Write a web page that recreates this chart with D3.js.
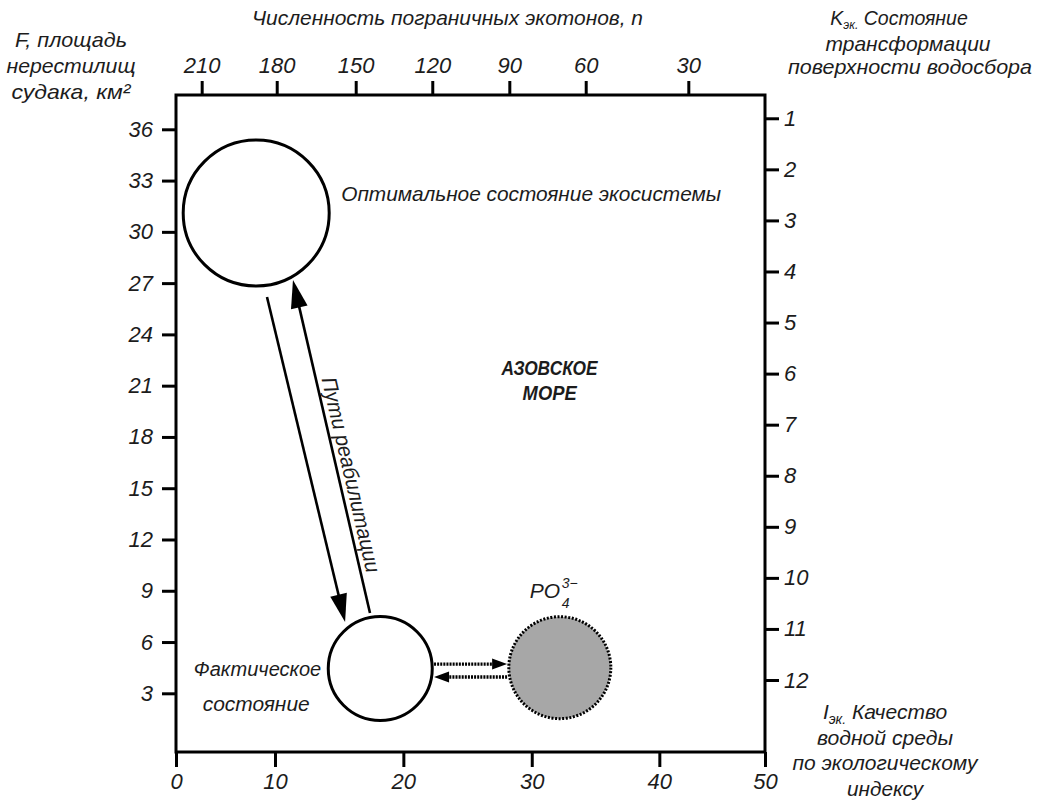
<!DOCTYPE html>
<html><head><meta charset="utf-8">
<script src="https://cdn.jsdelivr.net/npm/d3@7"></script>
<style>
body{margin:0;background:#fff}
text{font-family:"Liberation Sans",Arial,sans-serif;font-style:italic;fill:#1c1c1c}
</style>
</head><body>
<svg id="chart" width="1041" height="803"></svg>
<script>
// ---------------- data ----------------
const bottomTicks = [0, 10, 20, 30, 40, 50];            // I_эк, water quality index
const topTicks    = [210, 180, 150, 120, 90, 60, 30];   // n, number of border ecotones
const leftTicks   = [3, 6, 9, 12, 15, 18, 21, 24, 27, 30, 33, 36]; // F, km²
const rightTicks  = [1, 2, 3, 4, 5, 6, 7, 8, 9, 10, 11, 12];      // K_эк
const stateNames  = ["optimal", "fact", "po4"];
const stateI      = [8.1, 18.2, 32.2];
const stateF      = [31.1, 4.45, 4.5];
// rehabilitation paths (down: optimal -> fact, up: fact -> optimal)
const rehabFromI  = [9.19, 17.40];
const rehabFromF  = [26.19, 7.70];
const rehabToI    = [15.46, 11.40];
const rehabToF    = [7.17, 27.18];
// exchange with the phosphate pool
const exchFromI   = [22.39, 28.08];
const exchFromF   = [4.71, 3.95];
const exchToI     = [28.08, 22.39];
const exchToF     = [4.71, 3.95];

// ---------------- layout ----------------
const L = 176, R = 765, T = 95, B = 752, W = R - L;
const svg = d3.select("#chart");

const x  = d3.scaleLinear().domain(bottomTicks)
  .range([0, 0.1681, 0.386, 0.604, 0.8206, 1].map(f => L + f * W));
const xn = d3.scaleLinear().domain(topTicks)
  .range([0.0436, 0.171, 0.3051, 0.4351, 0.5659, 0.6956, 0.8698].map(f => L + f * W));
const y  = d3.scaleLinear().domain([-0.434, 38.007]).range([B, T]);
const yk = d3.scaleLinear().domain([0.544, 13.41]).range([T, B]);

const radius = {optimal: 73, fact: 52, po4: 51};

function styleAxis(g) {
  g.select(".domain").remove();
  g.selectAll(".tick line").attr("stroke", "#000").attr("stroke-width", 3);
  g.selectAll(".tick text").attr("font-size", 22).attr("fill", "#1c1c1c")
    .attr("font-family", "Liberation Sans, Arial, sans-serif").attr("font-style", "italic");
}

svg.append("g").attr("transform", `translate(0,${B})`)
  .call(d3.axisBottom(x).tickValues(bottomTicks).tickSize(15).tickPadding(6).tickFormat(d3.format("d")))
  .call(styleAxis);
svg.append("g").attr("transform", `translate(0,${T})`)
  .call(d3.axisTop(xn).tickValues(topTicks).tickSize(14).tickPadding(8).tickFormat(d3.format("d")))
  .call(styleAxis);
svg.append("g").attr("transform", `translate(${L},0)`)
  .call(d3.axisLeft(y).tickValues(leftTicks).tickSize(14).tickPadding(9).tickFormat(d3.format("d")))
  .call(styleAxis);
svg.append("g").attr("transform", `translate(${R},0)`)
  .call(d3.axisRight(yk).tickValues(rightTicks).tickSize(14).tickPadding(5).tickFormat(d3.format("d")))
  .call(styleAxis);

// frame
svg.append("rect").attr("x", L).attr("y", T).attr("width", W).attr("height", B - T)
  .attr("fill", "none").attr("stroke", "#000").attr("stroke-width", 3);

// ---------------- circles ----------------
const states = stateNames.map((n, i) => ({name: n, I: stateI[i], F: stateF[i]}));
svg.append("g").selectAll("circle").data(states).join("circle")
  .attr("cx", d => x(d.I)).attr("cy", d => y(d.F)).attr("r", d => radius[d.name])
  .attr("fill", d => d.name === "po4" ? "#a7a7a7" : "#fff")
  .attr("stroke", "#000")
  .attr("stroke-width", 3)
  .attr("stroke-dasharray", d => d.name === "po4" ? "2,1.6" : null);

// ---------------- arrows ----------------
function arrow(g, x1, y1, x2, y2, headLen, headW, sw, dash) {
  const a = Math.atan2(y2 - y1, x2 - x1);
  const c = Math.cos(a), s = Math.sin(a);
  const bx = x2 - headLen * c, by = y2 - headLen * s;
  g.append("line").attr("x1", x1).attr("y1", y1)
    .attr("x2", bx + 2 * c).attr("y2", by + 2 * s)
    .attr("stroke", "#000").attr("stroke-width", sw)
    .attr("stroke-dasharray", dash || null);
  g.append("path")
    .attr("d", `M${x2},${y2}L${bx + headW * s},${by - headW * c}L${bx - headW * s},${by + headW * c}Z`)
    .attr("fill", "#000");
}
const ga = svg.append("g");
rehabFromI.forEach((_, i) =>
  arrow(ga, x(rehabFromI[i]), y(rehabFromF[i]), x(rehabToI[i]), y(rehabToF[i]), 28, 8.5, 2.6));
exchFromI.forEach((_, i) =>
  arrow(ga, x(exchFromI[i]), y(exchFromF[i]), x(exchToI[i]), y(exchToF[i]), 15, 5.5, 3.4, "2,1.1"));

// ---------------- text ----------------
function label(txt, px, py, opts = {}) {
  const t = svg.append("text").attr("x", px).attr("y", py)
    .attr("font-size", opts.size || 21)
    .attr("text-anchor", opts.anchor || "start")
    .text(txt);
  if (opts.len) t.attr("textLength", opts.len).attr("lengthAdjust", "spacingAndGlyphs");
  if (opts.bold) t.attr("font-weight", "bold");
  return t;
}

// top title
label("Численность пограничных экотонов, n", 252, 25, {len: 391});
// left title
label("F, площадь", 71, 47, {anchor: "middle", len: 112});
label("нерестилищ", 71, 73, {anchor: "middle", len: 129});
label("судака, км²", 71, 99, {anchor: "middle", len: 119});
// right top title
const k1 = svg.append("g").attr("transform", "translate(899,25) scale(0.93,1)")
  .append("text").attr("x", 0).attr("y", 0).attr("font-size", 21).attr("text-anchor", "middle");
k1.append("tspan").text("K");
k1.append("tspan").attr("font-size", 13).attr("dy", 4).text("эк.");
k1.append("tspan").attr("dy", -4).text(" Состояние");
label("трансформации", 908, 51, {anchor: "middle"});
label("поверхности водосбора", 910, 74, {anchor: "middle", len: 244});
// bottom right title
const i1 = svg.append("text").attr("x", 885).attr("y", 719).attr("font-size", 21).attr("text-anchor", "middle");
i1.append("tspan").text("I");
i1.append("tspan").attr("font-size", 14).attr("dy", 5).text("эк.");
i1.append("tspan").attr("dy", -5).text(" Качество");
label("водной среды", 885, 745, {anchor: "middle", len: 136});
label("по экологическому", 885, 770, {anchor: "middle", len: 185});
label("индексу", 885, 796, {anchor: "middle", len: 76});

// annotations tied to the circles
const opt = states[0], fact = states[1], po4 = states[2];
label("Оптимальное состояние экосистемы",
  x(opt.I) + radius.optimal + 12, y(opt.F) - 12, {len: 380});
label("Фактическое", x(fact.I) - radius.fact - 7, y(fact.F) + 7, {anchor: "end", size: 20});
label("состояние", x(opt.I), y(fact.F) + 42, {anchor: "middle", len: 107});
label("АЗОВСКОЕ", x(31.4), y(21.6), {anchor: "middle", bold: true, size: 21, len: 96});
label("МОРЕ", x(31.4), y(20.15), {anchor: "middle", bold: true, size: 21, len: 54});

const pcx = x(po4.I), pcy = y(po4.F);
label("PO", pcx - 30, pcy - 70, {size: 21});
label("4", pcx + 2, pcy - 60, {size: 14});
label("3−", pcx + 2, pcy - 80, {size: 14});

// rehabilitation label along the upward path
{
  const x1 = x(rehabToI[1]), y1 = y(rehabToF[1]), x2 = x(rehabFromI[1]), y2 = y(rehabFromF[1]);
  const a = Math.atan2(y2 - y1, x2 - x1);
  const ux = Math.cos(a), uy = Math.sin(a);
  const cx = (x1 + x2) / 2 + 32 * ux + 13 * uy;
  const cy = (y1 + y2) / 2 + 32 * uy - 13 * ux;
  svg.append("text").attr("transform", `translate(${cx},${cy}) rotate(${a * 180 / Math.PI})`)
    .attr("font-size", 21).attr("text-anchor", "middle").attr("dominant-baseline", "central")
    .attr("textLength", 200).attr("lengthAdjust", "spacingAndGlyphs")
    .text("Пути реабилитации");
}
</script>
</body></html>
